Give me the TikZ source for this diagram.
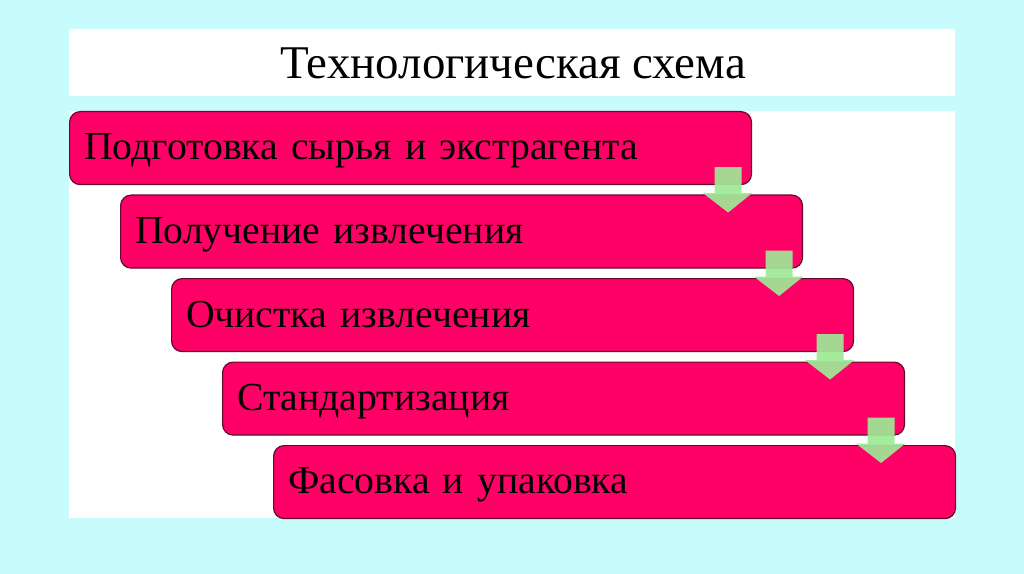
\documentclass[tikz,border=0pt]{standalone}
\usepackage{fontspec}
\setmainfont{Liberation Serif}
\usepackage{xcolor}
\usepackage{tikz}
\usetikzlibrary{calc}

\definecolor{bgcyan}{RGB}{200,252,252}
\definecolor{boxpink}{RGB}{255,0,102}
\definecolor{boxedge}{RGB}{100,10,45}
\definecolor{arrowgreen}{RGB}{158,234,150}

\tikzset{
  stepbox/.style={draw=boxedge, line width=0.7pt, fill=boxpink, rounded corners=6,
    anchor=north west, minimum height=1.46cm, text width=13.06cm, inner xsep=0.29cm,
    align=left, text depth=0.05cm, font=\fontsize{22.6}{26}\selectfont},
  flowarrow/.style={fill=arrowgreen, draw=none, fill opacity=0.92}
}

\begin{document}
\begin{tikzpicture}[x=0.02cm, y=-0.02cm]
        % Background and white panels
        \fill[bgcyan] (0,0) rectangle (1024,574);
        \fill[white] (69,29) rectangle (955,96);
        \fill[white] (69,111) rectangle (955,518);
        \useasboundingbox (0,0) rectangle (1024,574);

        % Title
        \node[font=\fontsize{26.7}{30}\selectfont] (title) at (513,63) {Технологическая схема};

        % Steps
        \foreach \t [count=\i] in {Подготовка сырья и экстрагента, Получение извлечения,
            Очистка извлечения, Стандартизация, Фасовка и упаковка}
            \node[stepbox] (s\i) at ({69+51*(\i-1)}, {111+83.5*(\i-1)}) {\t};

        % Arrows between steps
        \foreach \i [evaluate=\i as \j using int(\i+1)] in {1,2,3,4}
            \fill[flowarrow]
              ($(s\i.south east)+(-37.5,-18)$) -- ($(s\i.south east)+(-10.5,-18)$)
              -- ($(s\i.south east)+(-10.5,8)$) -- ($(s\i.south east)+(0,8)$)
              -- ($(s\j.north east)+(-75,18)$)
              -- ($(s\i.south east)+(-49,8)$) -- ($(s\i.south east)+(-37.5,8)$) -- cycle;
    \end{tikzpicture}
\end{document}
